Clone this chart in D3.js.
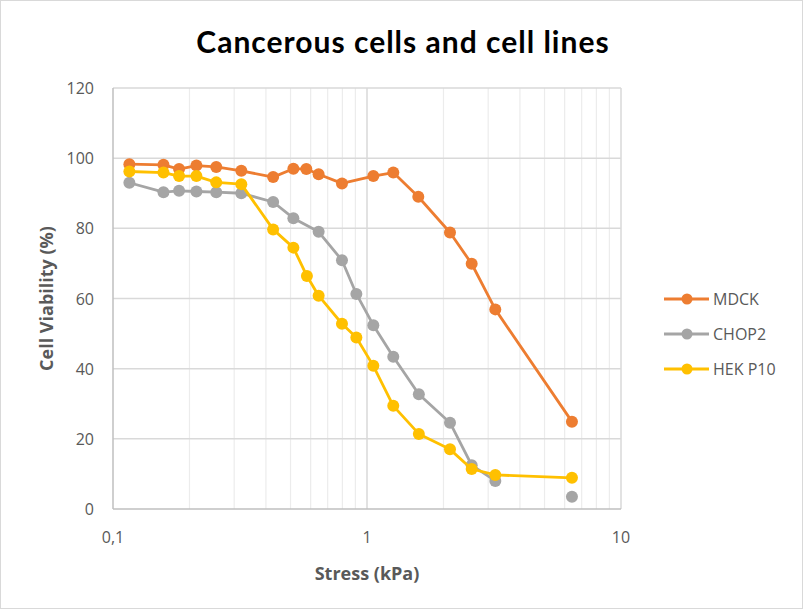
<!DOCTYPE html>
<html lang="en">
<head>
<meta charset="UTF-8">
<title>Cancerous cells and cell lines</title>
<script src="https://d3js.org/d3.v7.min.js"></script>
<style>
  body { margin: 0; background: #fff; }
  text { font-family: 'Open Sans', Lato, sans-serif; }
  .title { font-family: Lato, 'Open Sans', sans-serif; }
</style>
</head>
<body>
<script>
// values
const mdckStress    = [0.116, 0.158, 0.182, 0.213, 0.255, 0.32, 0.427, 0.513, 0.577, 0.645, 0.797, 1.059, 1.269, 1.592, 2.122, 2.583, 3.2, 6.41];
const mdckViability = [98.3, 98.1, 96.9, 97.9, 97.5, 96.4, 94.6, 97.0, 96.9, 95.4, 92.8, 94.9, 95.9, 89.0, 78.8, 69.9, 56.9, 24.9];

// null = gap in the CHOP2 line before the last point
const chop2Stress    = [0.116, 0.158, 0.182, 0.213, 0.255, 0.32, 0.427, 0.513, 0.645, 0.797, 0.908, 1.059, 1.269, 1.6, 2.122, 2.583, 3.2, 4.5, 6.41];
const chop2Viability = [93.0, 90.3, 90.7, 90.5, 90.3, 90.0, 87.5, 82.9, 79.0, 70.9, 61.3, 52.4, 43.4, 32.7, 24.6, 12.5, 8.0, null, 3.5];

const hekStress    = [0.116, 0.158, 0.182, 0.213, 0.255, 0.32, 0.427, 0.513, 0.58, 0.645, 0.797, 0.908, 1.059, 1.269, 1.6, 2.122, 2.583, 3.2, 6.41];
const hekViability = [96.2, 95.9, 94.9, 94.9, 93.1, 92.6, 79.7, 74.5, 66.4, 60.8, 52.8, 48.9, 40.8, 29.4, 21.4, 17.0, 11.4, 9.7, 8.9];

const seriesNames  = ["MDCK", "CHOP2", "HEK P10"];
const seriesColors = ["#ed7d31", "#a5a5a5", "#ffc000"];
const yTicks = [0, 20, 40, 60, 80, 100, 120];
const xTicks = [0.1, 1, 10];

const series = [
    {name: seriesNames[0], color: seriesColors[0], pts: mdckStress.map((s, i) => ({x: s, y: mdckViability[i]}))},
    {name: seriesNames[1], color: seriesColors[1], pts: chop2Stress.map((s, i) => ({x: s, y: chop2Viability[i]}))},
    {name: seriesNames[2], color: seriesColors[2], pts: hekStress.map((s, i) => ({x: s, y: hekViability[i]}))}
];

const W = 805, H = 611;
const plotL = 113, plotR = 621, plotT = 88, plotB = 509;

const svg = d3.select("body").append("svg")
    .attr("width", W).attr("height", H);

svg.append("rect")
    .attr("x", 0.5).attr("y", 0.5)
    .attr("width", W - 3).attr("height", H - 3)
    .attr("fill", "#fff").attr("stroke", "#d9d9d9");

const x = d3.scaleLog().domain([0.1, 10]).range([plotL, plotR]);
const y = d3.scaleLinear().domain([0, 120]).range([plotB, plotT]);

// grid
const minor = [];
[0.1, 1].forEach(dec => { for (let k = 2; k <= 9; k++) minor.push(dec * k); });
svg.append("g").selectAll("line")
    .data(minor).join("line")
    .attr("x1", d => x(d)).attr("x2", d => x(d))
    .attr("y1", plotT).attr("y2", plotB)
    .attr("stroke", "#ececec").attr("stroke-width", 1.2);

svg.append("g").selectAll("line")
    .data(xTicks.slice(1)).join("line")
    .attr("x1", d => x(d)).attr("x2", d => x(d))
    .attr("y1", plotT).attr("y2", plotB)
    .attr("stroke", "#d9d9d9").attr("stroke-width", 1.5);

svg.append("g").selectAll("line")
    .data(yTicks.slice(1)).join("line")
    .attr("x1", plotL).attr("x2", plotR)
    .attr("y1", d => y(d)).attr("y2", d => y(d))
    .attr("stroke", "#d9d9d9").attr("stroke-width", 1.5);

// axes lines
svg.append("line")
    .attr("x1", plotL).attr("x2", plotL).attr("y1", plotT).attr("y2", plotB)
    .attr("stroke", "#bfbfbf").attr("stroke-width", 1.5);
svg.append("line")
    .attr("x1", plotL).attr("x2", plotR).attr("y1", plotB).attr("y2", plotB)
    .attr("stroke", "#bfbfbf").attr("stroke-width", 1.5);

// tick labels
svg.append("g").selectAll("text")
    .data(yTicks).join("text")
    .attr("x", plotL - 19).attr("y", d => y(d) + 6)
    .attr("text-anchor", "end")
    .attr("font-size", 16).attr("fill", "#595959")
    .text(d => d);

svg.append("g").selectAll("text")
    .data(xTicks).join("text")
    .attr("x", d => x(d)).attr("y", plotB + 34)
    .attr("text-anchor", "middle")
    .attr("font-size", 16).attr("fill", "#595959")
    .text(d => String(d).replace(".", ","));

// titles
svg.append("text")
    .attr("class", "title")
    .attr("x", 403).attr("y", 53)
    .attr("text-anchor", "middle")
    .attr("font-size", 30).attr("font-weight", "bold").attr("fill", "#000")
    .attr("letter-spacing", 1)
    .text("Cancerous cells and cell lines");

svg.append("text")
    .attr("x", 367).attr("y", 580)
    .attr("text-anchor", "middle")
    .attr("font-size", 18).attr("font-weight", "bold").attr("fill", "#595959")
    .text("Stress (kPa)");

svg.append("text")
    .attr("transform", "translate(53," + (plotB + plotT) / 2 + ") rotate(-90)")
    .attr("text-anchor", "middle")
    .attr("font-size", 18).attr("font-weight", "bold").attr("fill", "#595959")
    .text("Cell Viability (%)");

// series
const line = d3.line()
    .defined(d => d.y != null)
    .x(d => x(d.x)).y(d => y(d.y));

series.forEach(s => {
    const g = svg.append("g");
    g.append("path")
        .datum(s.pts)
        .attr("d", line)
        .attr("fill", "none")
        .attr("stroke", s.color)
        .attr("stroke-width", 2.8)
        .attr("stroke-linejoin", "round");
    g.selectAll("circle")
        .data(s.pts.filter(d => d.y != null)).join("circle")
        .attr("cx", d => x(d.x)).attr("cy", d => y(d.y))
        .attr("r", 6)
        .attr("fill", s.color);
});

// legend
const legend = svg.append("g").selectAll("g")
    .data(series).join("g")
    .attr("transform", (d, i) => "translate(664," + (299 + i * 35) + ")");
legend.append("line")
    .attr("x1", 0).attr("x2", 45)
    .attr("stroke", d => d.color).attr("stroke-width", 2.8);
legend.append("circle")
    .attr("cx", 23).attr("r", 5.5)
    .attr("fill", d => d.color);
legend.append("text")
    .attr("x", 49).attr("y", 6)
    .attr("font-size", 16).attr("fill", "#595959")
    .text(d => d.name);
</script>
</body>
</html>
